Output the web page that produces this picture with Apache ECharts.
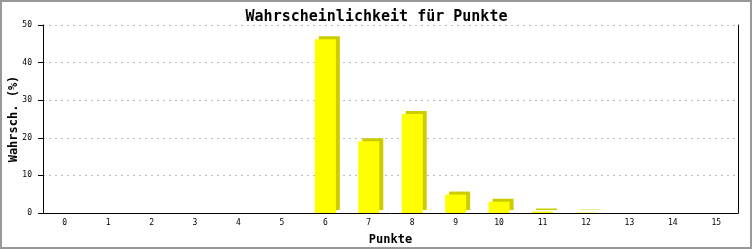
<!DOCTYPE html>
<html>
<head>
<meta charset="utf-8">
<script src="https://cdn.jsdelivr.net/npm/echarts@6/dist/echarts.min.js"></script>
<style>
html,body{margin:0;padding:0;background:#fff;}
#chart{width:753px;height:250px;}
</style>
</head>
<body>
<div id="chart"></div>
<script>
const categories = ['0','1','2','3','4','5','6','7','8','9','10','11','12','13','14','15'];
const values = [0, 0, 0, 0, 0, 0, 46.2, 19.1, 26.3, 4.9, 3.0, 0.4, 0.1, 0, 0, 0];
const yTicks = [0, 10, 20, 30, 40, 50];

const chart = echarts.init(document.getElementById('chart'), null, {renderer: 'canvas'});
const mono = '"DejaVu Sans Mono", "Liberation Mono", monospace';
chart.setOption({
  animation: false,
  backgroundColor: '#ffffff',
  title: {
    text: 'Wahrscheinlichkeit für Punkte',
    left: 'center',
    top: 5,
    textStyle: {fontFamily: mono, fontSize: 15, fontWeight: 'bold', color: '#000'}
  },
  graphic: [{
    type: 'rect', silent: true,
    shape: {x: 1, y: 1, width: 750, height: 247},
    style: {fill: null, stroke: '#999999', lineWidth: 2}
  }],
  grid: {left: 43, right: 15, top: 25, bottom: 37, containLabel: false, outerBoundsMode: 'none'},
  xAxis: {
    type: 'category',
    data: categories,
    boundaryGap: true,
    name: 'Punkte',
    nameLocation: 'middle',
    nameGap: 21,
    nameMoveOverlap: false,
    nameTextStyle: {fontFamily: mono, fontSize: 12, fontWeight: 'bold', color: '#000'},
    axisLine: {lineStyle: {color: '#000', width: 1}},
    axisTick: {show: false},
    axisLabel: {fontFamily: mono, fontSize: 8, color: '#000', margin: 6, interval: 0}
  },
  yAxis: [{
    type: 'value',
    min: yTicks[0], max: yTicks[yTicks.length - 1], interval: 10,
    name: 'Wahrsch. (%)',
    nameLocation: 'middle',
    nameGap: 23,
    nameMoveOverlap: false,
    nameTextStyle: {fontFamily: mono, fontSize: 12, fontWeight: 'bold', color: '#000'},
    axisLine: {show: true, lineStyle: {color: '#000', width: 1}},
    axisTick: {show: true, length: 5, lineStyle: {color: '#000'}},
    axisLabel: {fontFamily: mono, fontSize: 8, color: '#000', margin: 11},
    splitLine: {show: true, lineStyle: {color: '#bbbbbb', type: [2, 4], width: 1}}
  }, {
    type: 'value',
    position: 'right',
    min: yTicks[0], max: yTicks[yTicks.length - 1], interval: 10,
    axisLine: {show: true, lineStyle: {color: '#000', width: 1}},
    axisTick: {show: false},
    axisLabel: {show: false},
    splitLine: {show: false}
  }],
  series: [{
    type: 'bar',
    data: values,
    barWidth: 21,
    yAxisIndex: 0,
    itemStyle: {
      color: '#ffff00',
      shadowColor: '#cccc00',
      shadowBlur: 0,
      shadowOffsetX: 4,
      shadowOffsetY: -3
    }
  }]
});
</script>
</body>
</html>
